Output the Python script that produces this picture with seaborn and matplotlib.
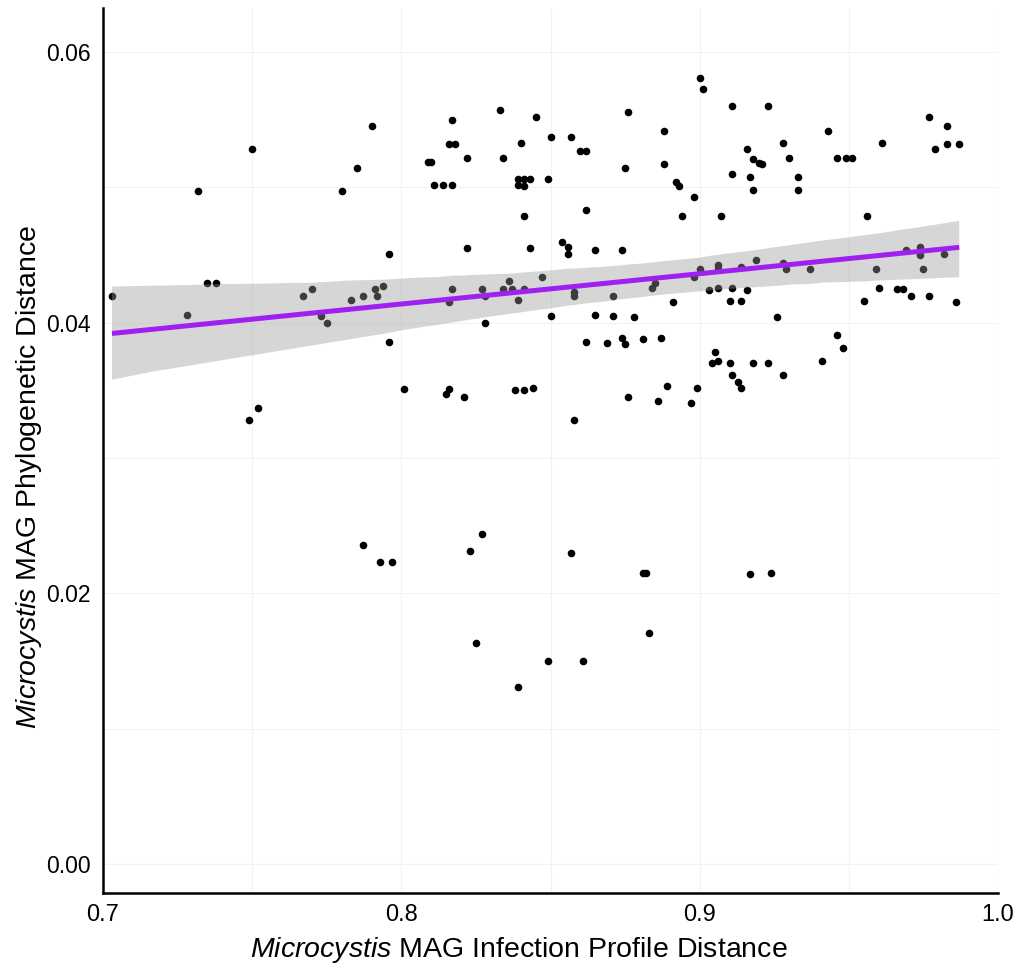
import pandas as pd
import numpy as np
import seaborn as sns
import matplotlib.pyplot as plt
from matplotlib.ticker import MultipleLocator

# Pairwise distances
infection_dist = [
    0.750, 0.732,
    0.790, 0.785, 0.780, 0.817, 0.816, 0.818, 0.809, 0.810, 0.811, 0.814,
    0.817, 0.822, 0.833, 0.845, 0.840, 0.834, 0.850, 0.839, 0.841, 0.843,
    0.839, 0.841, 0.849, 0.841, 0.822, 0.843, 0.796,
    0.900, 0.901, 0.911, 0.923, 0.876, 0.888, 0.857, 0.860, 0.862, 0.875,
    0.888, 0.916, 0.918, 0.920, 0.921, 0.911, 0.917, 0.918, 0.892, 0.893,
    0.898, 0.894, 0.907, 0.862, 0.854, 0.856, 0.856, 0.865, 0.874, 0.919,
    0.928, 0.930, 0.933, 0.933, 0.943, 0.946, 0.949, 0.951, 0.961, 0.977,
    0.983, 0.979, 0.983, 0.987, 0.956, 0.969, 0.974, 0.974, 0.982,
    0.703, 0.735, 0.738, 0.728, 0.767, 0.770, 0.773, 0.775, 0.752, 0.749,
    0.783, 0.787, 0.791, 0.792, 0.794, 0.817, 0.816, 0.827, 0.828, 0.828,
    0.836, 0.834, 0.837, 0.841, 0.839, 0.847, 0.850, 0.796, 0.801, 0.815,
    0.816, 0.821, 0.838, 0.841, 0.844,
    0.858, 0.858, 0.871, 0.865, 0.871, 0.878, 0.884, 0.885, 0.891, 0.898,
    0.900, 0.906, 0.906, 0.914, 0.903, 0.906, 0.911, 0.916, 0.910, 0.914,
    0.862, 0.869, 0.874, 0.875, 0.881, 0.887, 0.905, 0.904, 0.906, 0.910,
    0.918, 0.923, 0.911, 0.913, 0.914, 0.889, 0.899, 0.876, 0.886, 0.897,
    0.858,
    0.928, 0.929, 0.937, 0.959, 0.975, 0.960, 0.966, 0.968, 0.971, 0.977,
    0.986, 0.955, 0.926, 0.946, 0.948, 0.941, 0.928,
    0.787, 0.793, 0.797, 0.823, 0.827, 0.857, 0.881, 0.882, 0.825, 0.849,
    0.861, 0.839, 0.883, 0.917, 0.924,
]
phylo_dist = [
    0.0528, 0.0497,
    0.0545, 0.0514, 0.0497, 0.0550, 0.0532, 0.0532, 0.0519, 0.0519, 0.0502, 0.0502,
    0.0502, 0.0522, 0.0557, 0.0552, 0.0533, 0.0522, 0.0537, 0.0506, 0.0506, 0.0506,
    0.0502, 0.0501, 0.0506, 0.0479, 0.0455, 0.0455, 0.0451,
    0.0581, 0.0573, 0.0560, 0.0560, 0.0556, 0.0542, 0.0537, 0.0527, 0.0527, 0.0514,
    0.0517, 0.0528, 0.0521, 0.0518, 0.0517, 0.0510, 0.0508, 0.0498, 0.0504, 0.0501,
    0.0493, 0.0479, 0.0479, 0.0483, 0.0460, 0.0456, 0.0451, 0.0454, 0.0454, 0.0446,
    0.0533, 0.0522, 0.0508, 0.0498, 0.0542, 0.0522, 0.0522, 0.0522, 0.0533, 0.0552,
    0.0545, 0.0528, 0.0532, 0.0532, 0.0479, 0.0454, 0.0456, 0.0450, 0.0451,
    0.0420, 0.0429, 0.0429, 0.0406, 0.0420, 0.0425, 0.0405, 0.0400, 0.0337, 0.0328,
    0.0417, 0.0420, 0.0425, 0.0420, 0.0427, 0.0425, 0.0415, 0.0425, 0.0420, 0.0400,
    0.0431, 0.0425, 0.0425, 0.0425, 0.0417, 0.0434, 0.0405, 0.0386, 0.0351, 0.0347,
    0.0351, 0.0345, 0.0350, 0.0350, 0.0352,
    0.0423, 0.0420, 0.0420, 0.0406, 0.0405, 0.0404, 0.0426, 0.0429, 0.0415, 0.0434,
    0.0440, 0.0443, 0.0440, 0.0441, 0.0424, 0.0426, 0.0426, 0.0424, 0.0416, 0.0416,
    0.0386, 0.0385, 0.0389, 0.0384, 0.0388, 0.0389, 0.0378, 0.0370, 0.0372, 0.0370,
    0.0370, 0.0370, 0.0361, 0.0356, 0.0352, 0.0353, 0.0352, 0.0345, 0.0342, 0.0341,
    0.0328,
    0.0444, 0.0440, 0.0440, 0.0440, 0.0440, 0.0426, 0.0425, 0.0425, 0.0420, 0.0420,
    0.0415, 0.0416, 0.0404, 0.0391, 0.0381, 0.0372, 0.0361,
    0.0236, 0.0223, 0.0223, 0.0231, 0.0244, 0.0230, 0.0215, 0.0215, 0.0163, 0.0150,
    0.0150, 0.0131, 0.0171, 0.0214, 0.0215,
]

x_ticks = [0.7, 0.8, 0.9, 1.0]
y_ticks = [0.00, 0.02, 0.04, 0.06]

df = pd.DataFrame({'infection': infection_dist, 'phylo': phylo_dist})

sns.set_style('white')
plt.rcParams['font.family'] = ['Liberation Sans', 'DejaVu Sans']
plt.rcParams['mathtext.fontset'] = 'custom'
plt.rcParams['mathtext.rm'] = 'Liberation Sans'
plt.rcParams['mathtext.it'] = 'Liberation Sans:italic'
plt.rcParams['text.color'] = 'black'
plt.rcParams['axes.labelcolor'] = 'black'

fig = plt.figure(figsize=(10.13, 9.69), dpi=100)
ax = fig.add_axes([0.1017, 0.0784, 0.8835, 0.9133])

# points first, so the confidence band greys them out
sns.scatterplot(data=df, x='infection', y='phylo', color='black', s=30,
                linewidth=0, ax=ax, zorder=1)
sns.regplot(data=df, x='infection', y='phylo', scatter=False, ax=ax,
            color='#A020F0', seed=3,
            line_kws={'linewidth': 3.6, 'zorder': 3, 'solid_capstyle': 'butt'})

# ggplot-like grey band
for coll in ax.collections[1:]:
    coll.set_facecolor((0.6, 0.6, 0.6))
    coll.set_alpha(0.4)
    coll.set_edgecolor('none')
    coll.set_zorder(2)

ax.set_xlim(0.7, 1.0)
ax.set_ylim(-0.00214, 0.06325)
ax.set_xticks(x_ticks)
ax.set_xticklabels([f'{t:.1f}' for t in x_ticks])
ax.set_yticks(y_ticks)
ax.set_yticklabels([f'{t:.2f}' for t in y_ticks])
ax.xaxis.set_minor_locator(MultipleLocator(0.05))
ax.yaxis.set_minor_locator(MultipleLocator(0.01))
ax.grid(True, which='both', color='#F2F2F2', linewidth=0.8)
ax.set_axisbelow(True)

for side in ['top', 'right']:
    ax.spines[side].set_visible(False)
for side in ['left', 'bottom']:
    ax.spines[side].set_color('black')
    ax.spines[side].set_linewidth(1.8)

ax.tick_params(axis='both', which='both', length=0)
ax.tick_params(axis='x', pad=8, labelsize=17, labelcolor='black')
ax.tick_params(axis='y', pad=9, labelsize=16.5, labelcolor='black')

ax.set_xlabel(r'$\mathit{Microcystis}$ MAG Infection Profile Distance', fontsize=20.5)
ax.set_ylabel(r'$\mathit{Microcystis}$ MAG Phylogenetic Distance', fontsize=20.5)
ax.xaxis.set_label_coords(0.465, -0.047)
ax.yaxis.set_label_coords(-0.066, 0.47)

plt.savefig('out.png', dpi=100)
